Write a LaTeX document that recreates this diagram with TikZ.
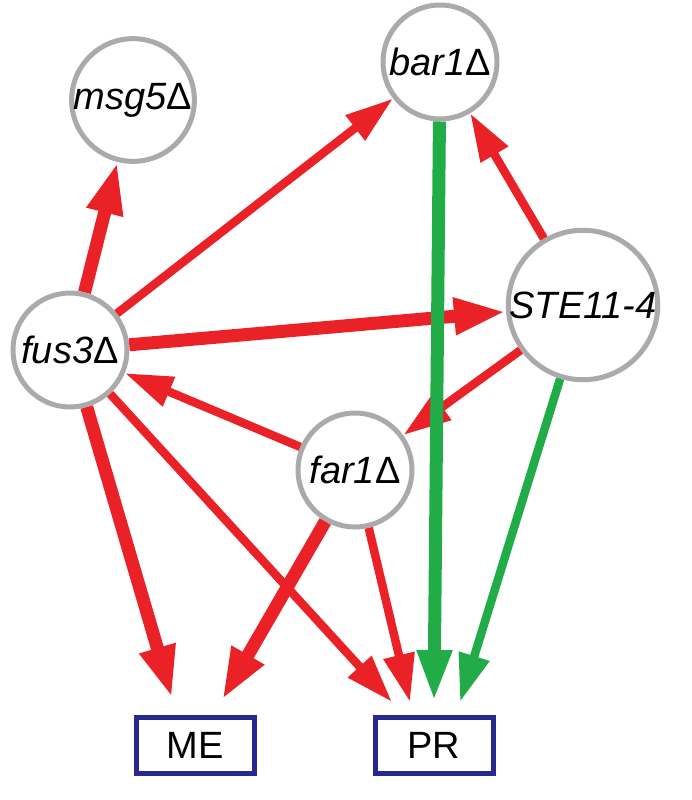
\documentclass[tikz,border=0pt]{standalone}
\usepackage{fontspec}
\setmainfont{Liberation Sans}
\usetikzlibrary{arrows.meta}
\definecolor{ared}{RGB}{234,34,40}
\definecolor{agreen}{RGB}{34,172,72}
\definecolor{agray}{RGB}{170,170,170}
\definecolor{ablue}{RGB}{40,40,145}
\newcommand{\dlt}{\textup{Δ}}
\begin{document}
\begin{tikzpicture}[x=1pt,y=-1pt,
  gene/.style={circle,draw=agray,line width=5pt,minimum size=114pt,inner sep=0pt,font=\fontsize{38}{40}\selectfont\itshape},
  outbox/.style={draw=ablue,line width=5pt,minimum width=118pt,minimum height=56pt,inner sep=0pt,font=\fontsize{38}{40}\selectfont},
  ed/.style={draw=ared,line width=8.5pt,-{Triangle[length=48pt,width=30pt]}},
  edt/.style={draw=ared,line width=13pt,-{Triangle[length=52pt,width=34pt]}},
  gd/.style={draw=agreen,line width=8.5pt,-{Triangle[length=48pt,width=30pt]}},
  gdt/.style={draw=agreen,line width=13pt,-{Triangle[length=52pt,width=32pt]}}]
\useasboundingbox (0,0) rectangle (692,800);
\node[gene] (msg5) at (133,100) {msg5\dlt};
\node[gene] (bar1) at (440,62) {bar1\dlt};
\node[gene] (ste) at (583,305) {STE11-4};
\node[gene] (fus3) at (70,350) {fus3\dlt};
\node[gene] (far1) at (355,470) {far1\dlt};
\node[outbox] (ME) at (195,745) {ME};
\node[outbox] (PR) at (434,745) {PR};
\coordinate (m1) at (172,698);
\coordinate (m2) at (222,700);
\coordinate (p1) at (392,702);
\coordinate (p2) at (410,702);
\coordinate (p3) at (434,702);
\coordinate (p4) at (460,702);
\draw[edt] (fus3) -- (msg5);
\draw[ed] (fus3) -- (bar1);
\draw[edt] (fus3) -- (ste);
\draw[ed] (far1) -- (fus3);
\draw[ed] (ste) -- (bar1);
\draw[ed] (ste) -- (far1);
\draw[edt] (fus3) -- (m1);
\draw[ed] (fus3) -- (p1);
\draw[edt] (far1) -- (m2);
\draw[ed] (far1) -- (p2);
\draw[gdt] (bar1) -- (p3);
\draw[gd] (ste) -- (p4);
\end{tikzpicture}
\end{document}
